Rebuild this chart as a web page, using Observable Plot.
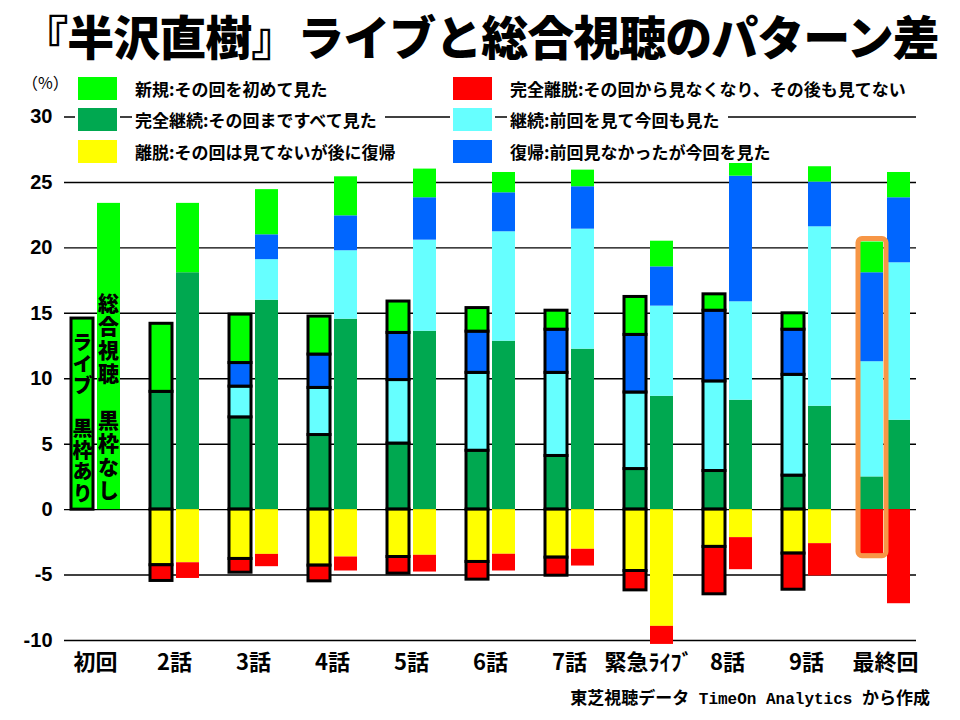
<!DOCTYPE html>
<html>
<head>
<meta charset="utf-8">
<script src="https://cdn.jsdelivr.net/npm/d3@7"></script>
<script src="https://cdn.jsdelivr.net/npm/@observablehq/plot@0.6"></script>
<style>
  body { margin: 0; background: #fff; font-family: "Noto Sans CJK JP", sans-serif; }
  #wrap { position: relative; width: 960px; height: 720px; overflow: hidden; background: #fff; }
  #chart { position: absolute; left: 0; top: 0; }
  .title { position: absolute; left: 0; top: 8px; width: 960px; text-align: center; font-size: 47px; letter-spacing: -1px; font-weight: 900; line-height: 54px; color: #000; white-space: nowrap; }
  .unit { position: absolute; left: 22px; top: 73px; font-size: 16px; line-height: 18px; color: #000; }
  .legend-item { position: absolute; display: flex; align-items: center; height: 23px; }
  .sw { width: 39px; height: 23px; box-shadow: 0 0 0 3px #fff; }
  .lt { margin-left: 15px; background: #fff; padding: 0 8px 0 3px; font-size: 17px; font-weight: 700; white-space: nowrap; line-height: 23px; color: #000; }
  .caption { position: absolute; right: 30px; top: 684px; font-size: 17px; font-weight: 700; color: #000; white-space: nowrap; }
  .caption .mono { font-family: "Liberation Mono", "DejaVu Sans Mono", monospace; font-size: 16px; }
</style>
</head>
<body>
<div id="wrap">
  <div id="chart"></div>
  <div class="title">『半沢直樹』ライブと総合視聴のパターン差</div>
  <div class="unit">（%）</div>
  <div id="legend"></div>
  <div class="caption">東芝視聴データ<span class="mono"> TimeOn Analytics </span>から作成</div>
</div>
<script>
// ---- data ----
const categories = ["初回", "2話", "3話", "4話", "5話", "6話", "7話", "緊急ﾗｲﾌﾞ", "8話", "9話", "最終回"];
const series = ["完全継続", "継続", "復帰", "新規", "離脱", "完全離脱"];
const seriesColors = ["#00A850", "#66FFFF", "#0066FF", "#00FF00", "#FFFF00", "#FF0000"];
const legendLabels = {
  "新規": "新規:その回を初めて見た",
  "完全継続": "完全継続:その回まですべて見た",
  "離脱": "離脱:その回は見てないが後に復帰",
  "完全離脱": "完全離脱:その回から見なくなり、その後も見てない",
  "継続": "継続:前回を見て今回も見た",
  "復帰": "復帰:前回見なかったが今回を見た"
};
const legendOrder = ["新規", "完全継続", "離脱", "完全離脱", "継続", "復帰"];

// ライブ (black-framed bars)
const liveFull   = [0, 9.0, 7.05, 5.7, 5.05, 4.5, 4.1, 3.1, 2.95, 2.6, 2.5];
const liveCont   = [0, 0, 2.35, 3.6, 4.85, 5.95, 6.35, 5.85, 6.85, 7.7, 8.8];
const liveReturn = [0, 0, 1.8, 2.55, 3.6, 3.15, 3.3, 4.4, 5.4, 3.45, 6.8];
const liveNew    = [14.6, 5.2, 3.7, 2.9, 2.4, 1.8, 1.45, 2.9, 1.25, 1.25, 2.35];
const liveLeave  = [0, 4.25, 3.77, 4.28, 3.62, 4.0, 3.67, 4.69, 2.85, 3.36, 0];
const liveGone   = [0, 1.2, 1.05, 1.2, 1.27, 1.35, 1.38, 1.48, 3.62, 2.76, 3.41];

// 総合視聴 (no frame)
const totalFull   = [0, 18.1, 16.0, 14.55, 13.63, 12.87, 12.26, 8.66, 8.36, 7.9, 6.83];
const totalCont   = [0, 0, 3.1, 5.23, 6.96, 8.36, 9.17, 6.89, 7.52, 13.71, 12.03];
const totalReturn = [0, 0, 1.9, 2.67, 3.24, 2.98, 3.24, 3.0, 9.6, 3.42, 4.97];
const totalNew    = [23.4, 5.3, 3.45, 2.98, 2.19, 1.55, 1.27, 1.96, 1.22, 1.17, 1.93];
const totalLeave  = [0, 4.06, 3.42, 3.62, 3.49, 3.41, 3.03, 8.92, 2.14, 2.6, 0];
const totalGone   = [0, 1.2, 0.94, 1.07, 1.28, 1.28, 1.28, 1.38, 2.45, 2.47, 7.19];

const yTicks = [-10, -5, 0, 5, 10, 15, 20, 25, 30];
const highlightCategory = "最終回";
const firstNotes = [
  {cat: "初回", kind: "live", text: "ライブ　黒枠あり", top: 14.0},
  {cat: "初回", kind: "total", text: "総合視聴　黒枠なし", top: 17.1}
];

// ---- build tables ----
function rows(kind, arrs) {
  const out = [];
  categories.forEach((c, i) => {
    series.forEach((s, j) => {
      const v = arrs[j][i];
      if (v) out.push({cat: c, kind, series: s, value: j >= 4 ? -v : v});
    });
  });
  return out;
}
const liveRows = rows("live", [liveFull, liveCont, liveReturn, liveNew, liveLeave, liveGone]);
const totalRows = rows("total", [totalFull, totalCont, totalReturn, totalNew, totalLeave, totalGone]);
const liveFramed = liveRows.filter(d => d.cat !== highlightCategory);
const liveHighlight = liveRows.filter(d => d.cat === highlightCategory);
const hi = categories.indexOf(highlightCategory);
const highlightBox = [{
  cat: highlightCategory,
  y1: -(liveLeave[hi] + liveGone[hi]),
  y2: liveFull[hi] + liveCont[hi] + liveReturn[hi] + liveNew[hi]
}];

// ---- chart ----
const chart = Plot.plot({
  width: 960,
  height: 720,
  marginTop: 116.5,
  marginBottom: 80,
  marginLeft: 64,
  marginRight: 44,
  style: {fontFamily: "'Noto Sans CJK JP', sans-serif", background: "transparent", color: "#000"},
  x: {domain: categories, paddingInner: 0.37, paddingOuter: 0.05, label: null},
  y: {domain: [-10, 30], label: null},
  color: {domain: series, range: seriesColors},
  marks: [
    Plot.ruleY(yTicks, {stroke: "#000", strokeWidth: 1.4}),
    Plot.barY(totalRows, Plot.stackY({x: "cat", y: "value", z: "series", fill: "series", insetLeft: 27})),
    Plot.barY(liveHighlight, Plot.stackY({x: "cat", y: "value", z: "series", fill: "series", insetRight: 27})),
    Plot.barY(liveFramed, Plot.stackY({x: "cat", y: "value", z: "series", fill: "series", stroke: "#000", strokeWidth: 3, insetRight: 27, insetLeft: 1})),
    Plot.barY(highlightBox, {x: "cat", y1: "y1", y2: "y2", fill: "none", stroke: "#F79646", strokeWidth: 5, rx: 4,
      insetLeft: -2, insetRight: 24, insetTop: -3, insetBottom: -2}),
    Plot.text(firstNotes.filter(d => d.kind === "live"), {x: "cat", y: "top", text: "text", dx: -13,
      textAnchor: "start", fontSize: 20, fontWeight: 900, fill: "#000"}),
    Plot.text(firstNotes.filter(d => d.kind === "total"), {x: "cat", y: "top", text: "text", dx: 13,
      textAnchor: "start", fontSize: 21, fontWeight: 900, fill: "#000"}),
    Plot.axisY(yTicks, {tickSize: 0, tickPadding: 12, tickFormat: d => String(d), fontSize: 20, fontWeight: "bold",
      fontFamily: "'Liberation Sans', Arial, sans-serif", label: null}),
    Plot.axisX({tickSize: 0, tickPadding: 14, fontSize: 22, fontWeight: "bold", label: null})
  ]
});
// write the two annotations vertically (縦書き) as in the reference
const noteTexts = firstNotes.map(d => d.text);
d3.select(chart).selectAll("text")
  .filter(function () { return noteTexts.includes(this.textContent); })
  .each(function () {
    const sel = d3.select(this);
    const live = this.textContent === firstNotes[0].text;
    sel.attr("dy", null)
      .style("writing-mode", "vertical-rl")
      .style("text-orientation", "upright")
      .style("letter-spacing", live ? "1.5px" : "2.4px");
  });
document.getElementById("chart").appendChild(chart);

// ---- legend (HTML overlay) ----
const legendPos = {
  "新規": [78, 77], "完全継続": [78, 108], "離脱": [78, 140],
  "完全離脱": [453, 77], "継続": [453, 108], "復帰": [453, 140]
};
const legend = document.getElementById("legend");
legendOrder.forEach(s => {
  const [lx, ly] = legendPos[s];
  const item = document.createElement("div");
  item.className = "legend-item";
  item.style.left = lx + "px";
  item.style.top = ly + "px";
  const sw = document.createElement("div");
  sw.className = "sw";
  sw.style.background = seriesColors[series.indexOf(s)];
  const t = document.createElement("span");
  t.className = "lt";
  t.textContent = legendLabels[s];
  item.appendChild(sw);
  item.appendChild(t);
  legend.appendChild(item);
});
</script>
</body>
</html>
